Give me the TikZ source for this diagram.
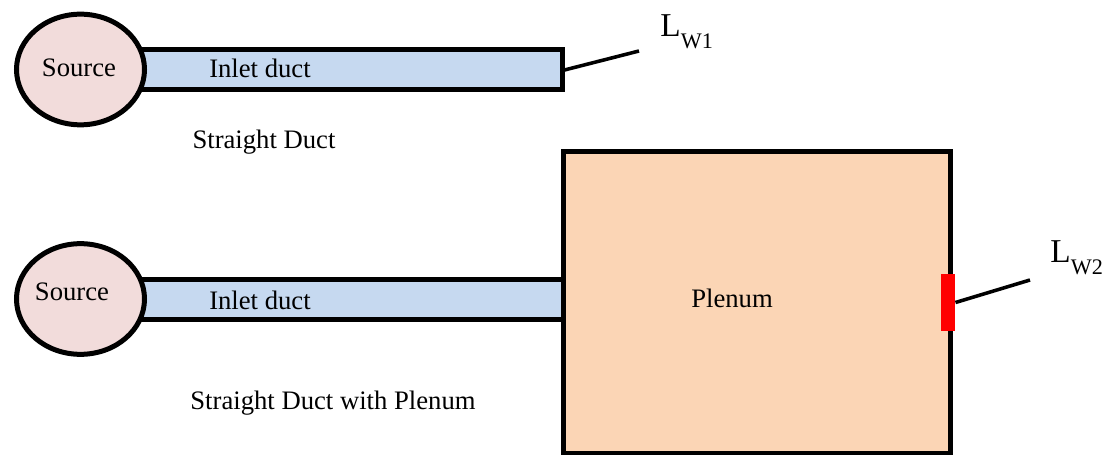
\documentclass[tikz,border=0pt]{standalone}
\usepackage{fontspec}
\setmainfont{Liberation Serif}
\definecolor{sourcefill}{RGB}{242, 220, 219}
\definecolor{ductfill}{RGB}{198, 217, 240}
\definecolor{plenumfill}{RGB}{251, 213, 181}
\usetikzlibrary{shapes.geometric}
\newcommand{\lwlabel}[1]{{\fontsize{15}{18}\selectfont L}%
    \raisebox{-5pt}{\fontsize{10}{12}\selectfont W#1}}
\tikzset{
    every node/.style={font=\fontsize{12}{14}\selectfont, inner sep=0pt},
    source/.style={ellipse, draw, line width=2.25pt, fill=sourcefill,
        minimum width=57.6pt, minimum height=49.8pt},
    duct/.style={rectangle, draw, line width=2.25pt, fill=ductfill,
        minimum height=18pt},
    plenum/.style={rectangle, draw, line width=2.25pt, fill=plenumfill,
        minimum width=174.15pt, minimum height=135.45pt},
    outlet/.style={rectangle, fill=red, minimum width=6.3pt,
        minimum height=25.65pt},
    lwline/.style={line width=1.6pt},
}

\begin{document}
\begin{tikzpicture}[x=0.45pt, y=-0.45pt]
    \useasboundingbox (0, 0) rectangle (1114, 455);
    % straight duct
    \node[duct, minimum width=207.9pt] (duct1) at (331, 70) {};
    \node[source] (src1) at (80.5, 69.5) {};
    \node (src1text) at (79, 68) {Source};
    \node (duct1text) at (260, 68) {Inlet duct};
    \node (case1) at (264, 142) {Straight Duct};
    \coordinate (lw1tip) at (639, 51);
    \draw[lwline] (duct1.east) -- (lw1tip);
    \node[anchor=base west] (lw1) at (660, 37) {\lwlabel{1}};
    % straight duct with plenum
    \node[duct, minimum width=208.35pt] (duct2) at (331.5, 299.5) {};
    \node[source] (src2) at (80.5, 299) {};
    \node (src2text) at (72, 292) {Source};
    \node (duct2text) at (260, 300) {Inlet duct};
    \node[plenum] (box) at (756.5, 302.5) {};
    \node (boxtext) at (732, 298) {Plenum};
    \node[outlet] (out) at (948, 302.5) {};
    \node (case2) at (333, 403) {Straight Duct with Plenum};
    \coordinate (lw2tip) at (1030, 280);
    \draw[lwline] (out.east) -- (lw2tip);
    \node[anchor=base west] (lw2) at (1050, 263) {\lwlabel{2}};
\end{tikzpicture}
\end{document}
